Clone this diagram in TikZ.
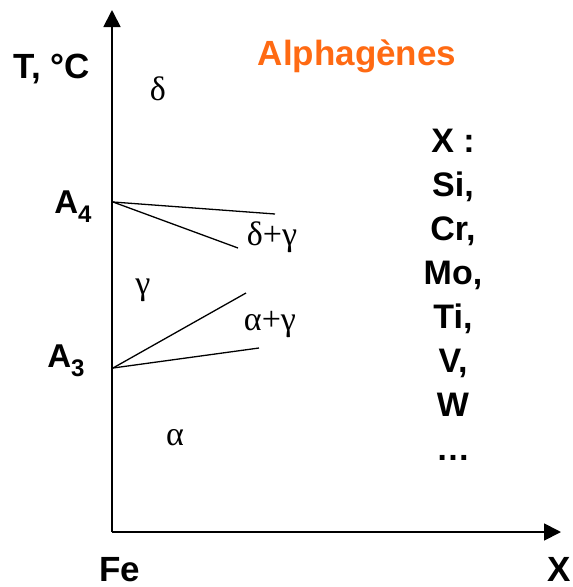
\documentclass[tikz,border=0pt]{standalone}
\usepackage{fontspec}
\setmainfont{Liberation Sans}
\newfontfamily\greekfont{Liberation Serif}
\usepackage{tikz}
\usetikzlibrary{arrows.meta}
\definecolor{alphaorange}{HTML}{FF6A13}
\newcommand{\lowsub}[1]{\raisebox{-9pt}{\fontsize{24}{28}\selectfont #1}}

\begin{document}
\begin{tikzpicture}[
    x=1pt, y=-1pt,
    axis/.style={line width=1.8pt, -{Triangle[length=17pt, width=17pt]}},
    bound/.style={line width=1.3pt},
    lbl/.style={font=\fontsize{35}{40}\selectfont\bfseries, inner sep=0pt, anchor=base},
    alabel/.style={font=\fontsize{33}{38}\selectfont\bfseries, inner sep=0pt, anchor=base},
    phase/.style={font=\fontsize{34}{38}\greekfont, inner sep=0pt, anchor=base},
    elem/.style={font=\fontsize{34}{38}\selectfont\bfseries, inner sep=0pt, anchor=base}
]
\useasboundingbox (0,0) rectangle (573,587);

% axes
\coordinate (origin) at (112,532);
\coordinate (ytop) at (112,10);
\coordinate (xend) at (561,532);
\draw[axis] (origin) -- (ytop);
\draw[axis] (origin) -- (xend);

% transformation points
\coordinate (a4) at (113,202);
\coordinate (a3) at (113,368);
\coordinate (d1) at (275,214);
\coordinate (d2) at (238,248);
\coordinate (g1) at (246,293);
\coordinate (g2) at (259,348);
\draw[bound] (a4) -- (d1);
\draw[bound] (a4) -- (d2);
\draw[bound] (a3) -- (g1);
\draw[bound] (a3) -- (g2);

% labels
\node[lbl] (temp) at (52,78) {T, °C};
\node[lbl] (fe) at (120,581) {Fe};
\node[lbl] (xlab) at (559,581) {X};
\node[alabel] (lA4) at (73,213) {A\lowsub{4}};
\node[alabel] (lA3) at (66,367) {A\lowsub{3}};
\node[lbl, text=alphaorange] (title) at (357,65) {Alphagènes};

% phases
\node[phase] (delta) at (158,100) {δ};
\node[phase] (dg) at (272,245) {δ+γ};
\node[phase] (gamma) at (143,294) {γ};
\node[phase] (ag) at (270,330) {α+γ};
\node[phase] (alpha) at (175,445) {α};

% alloying elements
\foreach \el [count=\i] in {X :, {Si,}, {Cr,}, {Mo,}, {Ti,}, {V,}, W, …}
    \node[elem] (el\i) at (453,{152+44*(\i-1)}) {\el};
\end{tikzpicture}
\end{document}
